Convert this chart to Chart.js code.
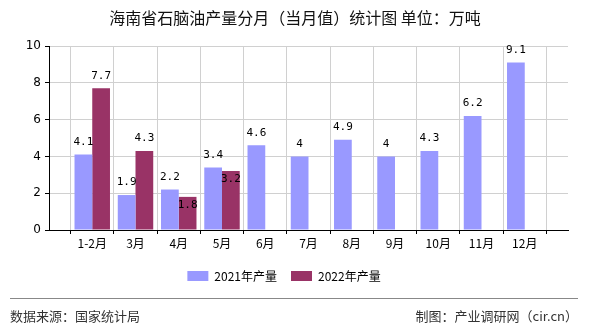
<!DOCTYPE html>
<html>
<head>
<meta charset="utf-8">
<script src="https://cdn.jsdelivr.net/npm/chart.js@4.4.1/dist/chart.umd.min.js"></script>
<style>
  html, body { margin: 0; padding: 0; background: #fff; }
  #wrap { width: 590px; height: 330px; }
</style>
</head>
<body>
<div id="wrap"><canvas id="chart" width="590" height="330"></canvas></div>
<script>
  "use strict";

  // data
  const months = ["1-2月", "3月", "4月", "5月", "6月", "7月", "8月", "9月", "10月", "11月", "12月"];
  const output2021 = [4.1, 1.9, 2.2, 3.4, 4.6, 4, 4.9, 4, 4.3, 6.2, 9.1];
  const output2022 = [7.7, 4.3, 1.8, 3.2];
  const yTicks = [0, 2, 4, 6, 8, 10];

  const TITLE = "海南省石脑油产量分月（当月值）统计图 单位：万吨";
  const SOURCE = "数据来源：国家统计局";
  const MAKER = "制图：产业调研网（cir.cn）";
  const CJK = "'Noto Sans CJK SC', 'Noto Sans', sans-serif";

  // pad with an empty slot at each end so the axis runs from edge to edge
  function pad(arr) {
    let out = [null];
    months.forEach((m, i) => {
      out.push(i < arr.length ? arr[i] : null);
    });
    out.push(null);
    return out;
  }

  let labels = [""].concat(months, [""]);

  // title + footer
  const decor = {
    id: "decor",
    afterDraw(chart) {
      let ctx = chart.ctx;
      ctx.save();
      ctx.fillStyle = "#111";
      ctx.font = "16px " + CJK;
      ctx.textAlign = "center";
      ctx.textBaseline = "middle";
      ctx.fillText(TITLE, 295, 18);

      ctx.strokeStyle = "#888";
      ctx.lineWidth = 1;
      ctx.beginPath();
      ctx.moveTo(10, 298.5);
      ctx.lineTo(578, 298.5);
      ctx.stroke();

      ctx.fillStyle = "#333";
      ctx.font = "13px " + CJK;
      ctx.textAlign = "left";
      ctx.fillText(SOURCE, 10, 316);
      ctx.textAlign = "right";
      ctx.fillText(MAKER, 578, 316);
      ctx.restore();
    }
  };

  // value labels above bars; a 2022 label that would collide with the 2021 one goes inside the bar
  const valueLabels = {
    id: "valueLabels",
    afterDatasetsDraw(chart) {
      let ctx = chart.ctx;
      let m0 = chart.getDatasetMeta(0);
      let m1 = chart.getDatasetMeta(1);
      ctx.save();
      ctx.fillStyle = "#000";
      ctx.font = "11px 'DejaVu Sans Mono', monospace";
      ctx.textAlign = "center";
      [m0, m1].forEach((meta, di) => {
        let data = chart.data.datasets[di].data;
        meta.data.forEach((bar, i) => {
          let v = data[i];
          if (v === null || v === undefined) {
            return;
          }
          let inside = false;
          if (di === 1) {
            let other = m0.data[i];
            if (other && Math.abs(other.y - bar.y) < 14) {
              inside = true;
            }
          }
          if (inside) {
            ctx.textBaseline = "top";
            ctx.fillText(String(v), bar.x, bar.y + 3);
          } else {
            ctx.textBaseline = "bottom";
            ctx.fillText(String(v), bar.x, bar.y - 7);
          }
        });
      });
      ctx.restore();
    }
  };

  let config = {
    type: "bar",
    data: {
      labels: labels,
      datasets: [{
        label: "2021年产量",
        data: pad(output2021),
        backgroundColor: "#9999ff",
        categoryPercentage: 0.82,
        barPercentage: 1
      }, {
        label: "2022年产量",
        data: pad(output2022),
        backgroundColor: "#993366",
        categoryPercentage: 0.82,
        barPercentage: 1
      }]
    },
    options: {
      responsive: false,
      animation: false,
      layout: {
        padding: { left: 0, right: 22, top: 46, bottom: 38 }
      },
      plugins: {
        title: { display: false },
        tooltip: { enabled: false },
        legend: {
          position: "bottom",
          labels: {
            boxWidth: 21,
            boxHeight: 10,
            padding: 14,
            color: "#000",
            font: { size: 12, family: CJK }
          }
        }
      },
      scales: {
        x: {
          offset: false,
          grid: {
            color: "#d0d0d0",
            tickColor: "#000",
            tickLength: 4,
            drawOnChartArea: true
          },
          border: { color: "#000", width: 1 },
          ticks: {
            autoSkip: false,
            maxRotation: 0,
            color: "#000",
            padding: 2,
            font: { size: 12, family: CJK }
          },
          afterFit(scale) {
            scale.height = 26;
          }
        },
        y: {
          min: 0,
          max: 10,
          afterBuildTicks(scale) {
            scale.ticks = yTicks.map(v => ({ value: v }));
          },
          grid: {
            color: "#d0d0d0",
            tickColor: "#000",
            tickLength: 4
          },
          border: { color: "#000", width: 1 },
          ticks: {
            color: "#000",
            padding: 4,
            font: { size: 12, family: "'DejaVu Sans', sans-serif" }
          },
          afterFit(scale) {
            scale.width = 49;
          }
        }
      }
    },
    plugins: [valueLabels, decor]
  };

  new Chart(document.getElementById("chart"), config);
</script>
</body>
</html>
